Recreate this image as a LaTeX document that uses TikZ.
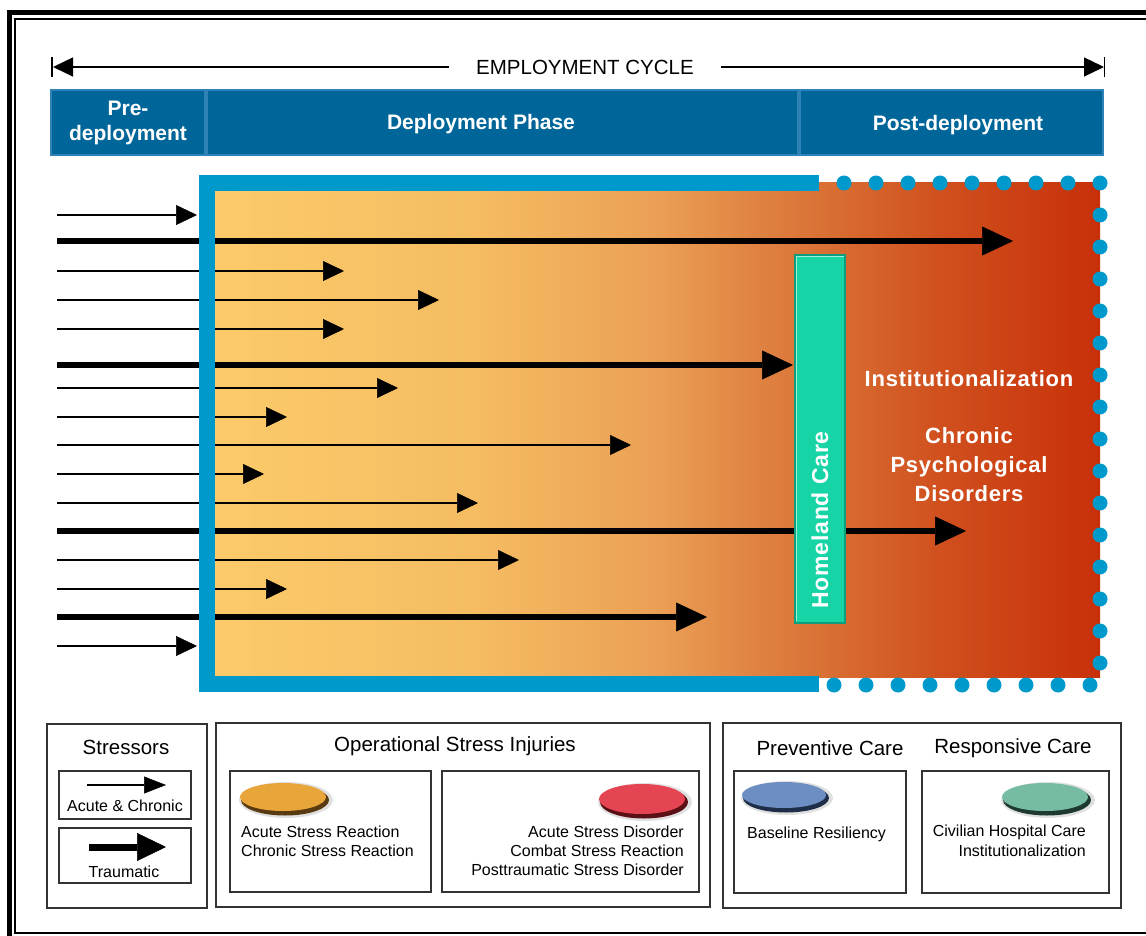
\documentclass[tikz,border=0pt]{standalone}
\usepackage{fontspec}
\setmainfont{Liberation Sans}
\newfontfamily\spacedbold[LetterSpace=3.4]{Liberation Sans Bold}
\usetikzlibrary{arrows.meta}
\definecolor{hdr}{HTML}{006699}
\definecolor{hdredge}{HTML}{2F82B5}
\definecolor{frameblue}{HTML}{0099CC}
\definecolor{hometeal}{HTML}{17D4A7}
\definecolor{homeedge}{HTML}{0E9E7C}
\definecolor{legline}{HTML}{333333}
\definecolor{gA}{HTML}{FCCB6A}
\definecolor{gB}{HTML}{F5BC62}
\definecolor{gC}{HTML}{EBA055}
\definecolor{gD}{HTML}{DC7A3C}
\definecolor{gE}{HTML}{D0501E}
\definecolor{gF}{HTML}{C83008}
\definecolor{ovOrange}{HTML}{E8A53A}
\definecolor{ovOrangeD}{HTML}{5A3A10}
\definecolor{ovRed}{HTML}{E54452}
\definecolor{ovRedD}{HTML}{5A1015}
\definecolor{ovBlue}{HTML}{6C8EC2}
\definecolor{ovBlueD}{HTML}{1E2E48}
\definecolor{ovGreen}{HTML}{76BCA2}
\definecolor{ovGreenD}{HTML}{1E3A30}
\pgfdeclarehorizontalshading{stressgrad}{100bp}{color(0bp)=(gA); color(25bp)=(gA); color(40bp)=(gB); color(50bp)=(gC); color(57.5bp)=(gD); color(66bp)=(gE); color(75bp)=(gF); color(100bp)=(gF)}
\newcommand{\hdrfont}{\fontsize{21}{25}\selectfont\bfseries}
\newcommand{\boxfont}{\spacedbold\fontsize{22}{29}\selectfont}
\newcommand{\homefont}{\spacedbold\fontsize{23}{27}\selectfont}
\newcommand{\legtitle}{\fontsize{20.5}{24}\selectfont}
\newcommand{\legsmall}{\fontsize{16}{19}\selectfont}
\begin{document}
\begin{tikzpicture}[x=1pt,y=-1pt,
  thinarr/.style={line width=2pt,-{Triangle[length=21pt,width=20pt,line width=0.5pt]}},
  thickarr/.style={line width=6.5pt,-{Triangle[length=31pt,width=29pt,line width=0.5pt]}},
  hdrbox/.style={draw=hdredge,line width=1.5pt,fill=hdr,text=white,font=\hdrfont,align=center,inner sep=0pt},
  legbox/.style={draw=legline,line width=1.6pt,fill=white},
  legtxt/.style={font=\legsmall,inner sep=0pt},
  whitetxt/.style={text=white,font=\boxfont,align=center,inner sep=0pt}]
\useasboundingbox (0,0) rectangle (1146,936);
\clip (0,0) rectangle (1146,936);
\fill[white] (0,0) rectangle (1146,936);
% outer frame
\draw[line width=5pt] (9.5,960) -- (9.5,13) -- (1170,13);
\draw[line width=2pt] (1170,19.5) -- (15,19.5) -- (15,933) -- (1170,933);
\draw[line width=2.5pt] (15,933) -- (1170,933);

% employment cycle
\coordinate (cycL) at (53,67);
\coordinate (cycR) at (1104,67);
\node[fill=white,inner xsep=27pt,inner ysep=4pt,font=\fontsize{20.5}{24}\selectfont] (cyc) at (585,67) {EMPLOYMENT CYCLE};
\draw[line width=1.3pt,{Triangle[length=20pt,width=19pt]}-] (cycL) -- (cyc.west);
\draw[line width=1.3pt,-{Triangle[length=20pt,width=19pt]}] (cyc.east) -- (cycR);
\draw[line width=1.5pt] (52,57) -- (52,77);
\draw[line width=1.5pt] (1104.5,57) -- (1104.5,77);

% header bars
\node[hdrbox,minimum width=154pt,minimum height=65pt] (pre) at (128,122.5) {Pre-\\deployment};
\node[hdrbox,minimum width=591pt,minimum height=65pt] (dep) at (502.5,122.5) {};
\node[hdrbox,minimum width=303pt,minimum height=65pt] (post) at (951.5,122.5) {};
\node[text=white,font=\hdrfont,inner sep=0pt] (deptxt) at (481,124) {Deployment Phase};
\node[text=white,font=\hdrfont,inner sep=0pt] (posttxt) at (958,125) {Post-deployment};

% gradient area
\shade[shading=stressgrad] (207,183) rectangle (1100,677);

% stressor arrows
\foreach \i/\yy/\tx/\st in {1/215/197/thinarr, 2/241/1013/thickarr, 3/271/344/thinarr, 4/300/439/thinarr,
  5/329/344/thinarr, 6/365/793/thickarr, 7/388/398/thinarr, 8/417/287/thinarr, 9/445/631/thinarr,
  10/474/264/thinarr, 11/503/478/thinarr, 12/531/966/thickarr, 13/560/519/thinarr, 14/589/287/thinarr,
  15/617/707/thickarr, 16/646/197/thinarr}{
  \coordinate (s\i) at (57,\yy);
  \coordinate (e\i) at (\tx,\yy);
  \draw[\st] (s\i) -- (e\i);
}

% blue frame
\draw[frameblue,line width=16pt] (819,183) -- (207,183) -- (207,684) -- (819,684);
\foreach \k in {0,...,8} \fill[frameblue] (844+32*\k,183) circle[radius=7.5pt];
\foreach \k in {1,...,15} \fill[frameblue] (1100,183+32*\k) circle[radius=7.5pt];
\foreach \k in {0,...,8} \fill[frameblue] (834+32*\k,685) circle[radius=7.5pt];

% homeland care bar
\node[draw=homeedge,line width=1.5pt,fill=hometeal,minimum width=50pt,minimum height=368pt,inner sep=0pt] (home) at (820,439) {};
\draw[white!60!hometeal,line width=1pt] (796.5,621) -- (796.5,256.5) -- (843.5,256.5);
\node[text=white,font=\homefont,inner sep=0pt,rotate=90] (hometxt) at (820,520) {Homeland Care};

% texts in the box
\node[whitetxt] (inst) at (969,379) {Institutionalization};
\node[whitetxt] (chronic) at (969,465) {Chronic\\Psychological\\Disorders};

% legend box 1
\node[legbox,minimum width=160pt,minimum height=184pt,inner sep=0pt] (stbox) at (127,816) {};
\node[font=\legtitle,inner sep=0pt] (sttitle) at (126,747) {Stressors};
\node[legbox,minimum width=132pt,minimum height=48pt,inner sep=0pt] (acbox) at (125,795) {};
\coordinate (acs) at (87,785);
\coordinate (ace) at (166,785);
\draw[line width=1.8pt,-{Triangle[length=22pt,width=17pt,line width=0.5pt]}] (acs) -- (ace);
\node[legtxt] (actxt) at (125,806) {Acute \& Chronic};
\node[legbox,minimum width=132pt,minimum height=55pt,inner sep=0pt] (trbox) at (125,855.5) {};
\coordinate (trs) at (89,847);
\coordinate (tre) at (166,847);
\draw[line width=7pt,-{Triangle[length=29pt,width=28pt,line width=0.5pt]}] (trs) -- (tre);
\node[legtxt] (trtxt) at (124,872) {Traumatic};

% legend box 2
\node[legbox,minimum width=494pt,minimum height=184pt,inner sep=0pt] (osibox) at (463,815) {};
\node[font=\legtitle,inner sep=0pt] (osititle) at (455,746) {Operational Stress Injuries};
\node[legbox,minimum width=201pt,minimum height=121pt,inner sep=0pt] (osia) at (330.5,831.5) {};
\node[legbox,minimum width=257pt,minimum height=121pt,inner sep=0pt] (osib) at (570.5,831.5) {};
% orange oval
\fill[gray!40,opacity=0.6] (286,800) ellipse[x radius=47pt,y radius=18pt];
\fill[ovOrangeD] (285,800) ellipse[x radius=44pt,y radius=15.5pt];
\fill[ovOrange] (283,797) ellipse[x radius=43pt,y radius=14pt];
\node[legtxt,anchor=west] (osa1) at (241,832) {Acute Stress Reaction};
\node[legtxt,anchor=west] (osa2) at (241,851) {Chronic Stress Reaction};
% red oval
\fill[gray!40,opacity=0.6] (645,802) ellipse[x radius=47pt,y radius=19pt];
\fill[ovRedD] (644,802) ellipse[x radius=44pt,y radius=16.5pt];
\fill[ovRed] (642,799) ellipse[x radius=43pt,y radius=15pt];
\node[legtxt,anchor=east] (osb1) at (684,832) {Acute Stress Disorder};
\node[legtxt,anchor=east] (osb2) at (684,851) {Combat Stress Reaction};
\node[legtxt,anchor=east] (osb3) at (684,870) {Posttraumatic Stress Disorder};

% legend box 3
\node[legbox,minimum width=398pt,minimum height=185pt,inner sep=0pt] (carebox) at (922,815.5) {};
\node[font=\legtitle,inner sep=0pt] (prevtitle) at (830,748) {Preventive Care};
\node[font=\legtitle,inner sep=0pt] (resptitle) at (1013,748) {Responsive Care};
\node[legbox,minimum width=172pt,minimum height=122pt,inner sep=0pt] (preva) at (820,832) {};
\node[legbox,minimum width=187pt,minimum height=122pt,inner sep=0pt] (respa) at (1015.5,832) {};
% blue oval
\fill[gray!40,opacity=0.6] (787,798) ellipse[x radius=46pt,y radius=17pt];
\fill[ovBlueD] (786,798) ellipse[x radius=43pt,y radius=14.5pt];
\fill[ovBlue] (784,795) ellipse[x radius=42pt,y radius=13pt];
\node[legtxt,anchor=west] (prev1) at (747,834) {Baseline Resiliency};
% green oval
\fill[gray!40,opacity=0.6] (1048,800) ellipse[x radius=47pt,y radius=18pt];
\fill[ovGreenD] (1047,800) ellipse[x radius=44pt,y radius=15.5pt];
\fill[ovGreen] (1045,797) ellipse[x radius=43pt,y radius=14pt];
\node[legtxt,anchor=east] (resp1) at (1086,832) {Civilian Hospital Care};
\node[legtxt,anchor=east] (resp2) at (1086,851) {Institutionalization};
\end{tikzpicture}
\end{document}
